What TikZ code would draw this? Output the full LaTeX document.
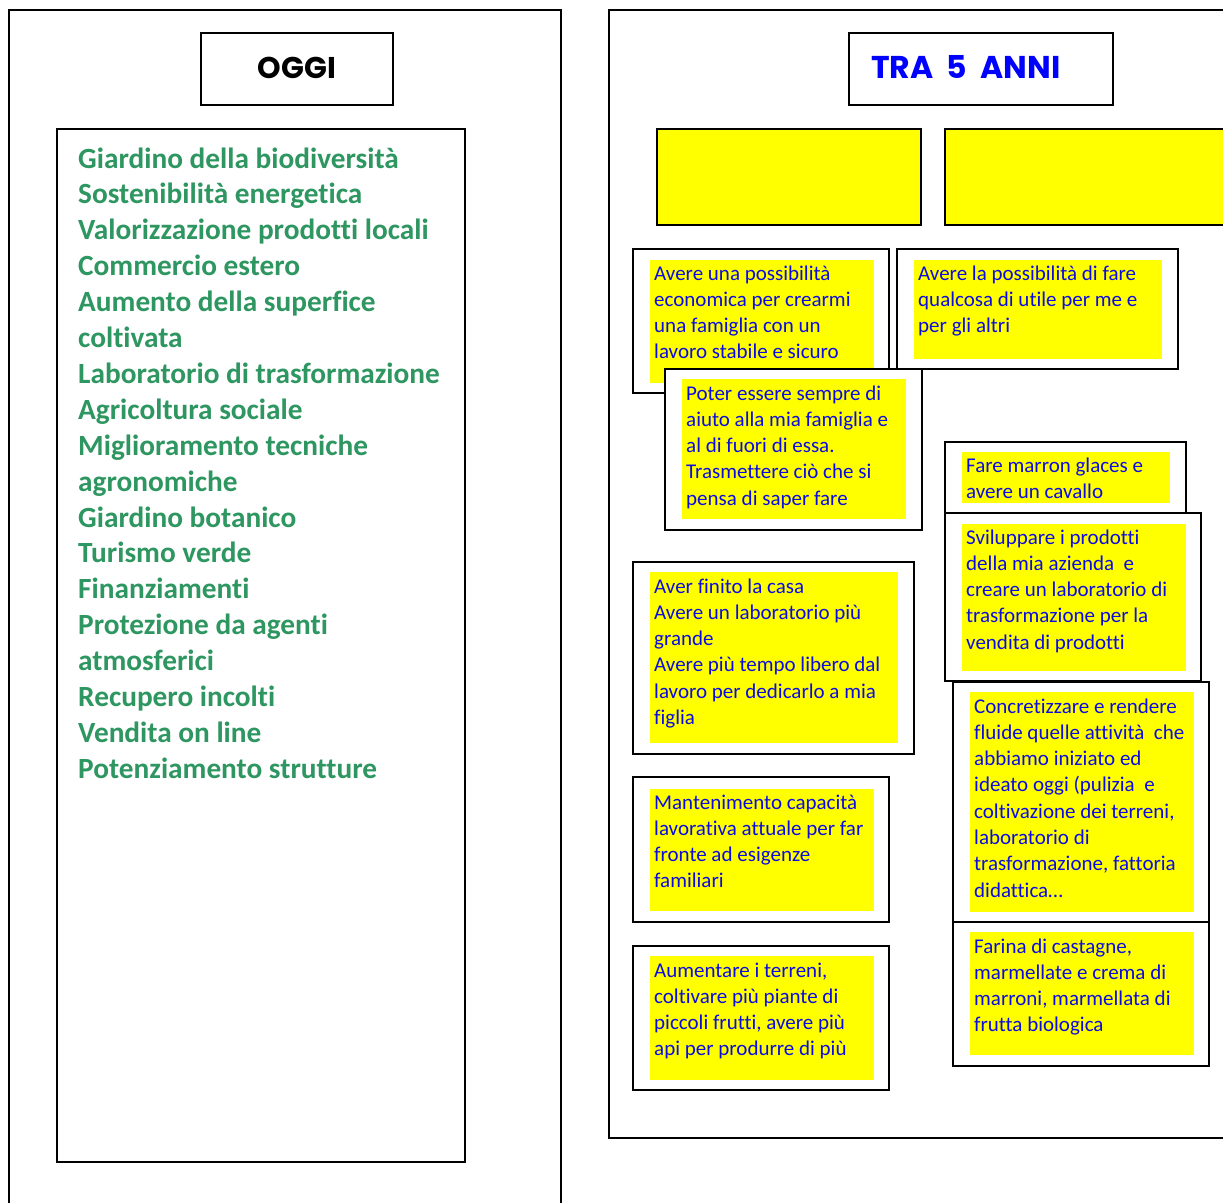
\documentclass[tikz,border=0pt]{standalone}
\usepackage{fontspec}
\setmainfont{Carlito}[Ligatures={NoCommon}]
\newfontfamily\titlefont{Poppins}
\newfontfamily\titlewide{Poppins}[WordSpace=2]
\definecolor{listgreen}{RGB}{46,150,96}
\definecolor{cardblue}{RGB}{12,12,225}
\definecolor{hlyellow}{RGB}{255,255,0}
\tikzset{
  panel/.style={draw=black, line width=1.6pt},
  boxframe/.style={draw=black, line width=1.8pt, fill=white, anchor=north west, inner sep=0pt, outer sep=0pt},
  hl/.style={fill=hlyellow, anchor=north west, inner sep=0pt, outer sep=0pt},
  hlbox/.style={fill=hlyellow, draw=black, line width=1.8pt, anchor=north west, inner sep=0pt, outer sep=0pt},
  ctext/.style={anchor=base west, inner sep=0pt, text=cardblue, font=\fontsize{21}{26.3}\selectfont},
  ltext/.style={anchor=base west, inner sep=0pt, text=listgreen, font=\fontsize{29.3}{35.9}\selectfont\bfseries},
  ttext/.style={inner sep=0pt, font=\fontsize{30}{36}\selectfont\titlefont\bfseries},
}
\newcommand{\lns}[1]{\begin{tabular}[t]{@{}l@{}}#1\end{tabular}}
\begin{document}
\begin{tikzpicture}[x=1pt,y=-1pt]
\path[use as bounding box] (0,0) rectangle (1223,1202);
\clip (0,0) rectangle (1223,1202);
\fill[white] (0,0) rectangle (1223,1202);

% ---------- left panel ----------
\draw[panel] (9,1215) -- (9,10) -- (561,10) -- (561,1215);
\node[boxframe, minimum width=192pt, minimum height=72pt] (oggibox) at (201,33) {};
\node[ttext, anchor=base] (oggi) at (297,78) {OGGI};
\node[boxframe, minimum width=408pt, minimum height=1033pt] (listbox) at (57,129) {};
\node[ltext] (list) at (78,168) {\lns{Giardino della biodiversità\\
Sostenibilità energetica\\
Valorizzazione prodotti locali\\
Commercio estero\\
Aumento della superfice\\
coltivata\\
Laboratorio di trasformazione\\
Agricoltura sociale\\
Miglioramento tecniche\\
agronomiche\\
Giardino botanico\\
Turismo verde\\
Finanziamenti\\
Protezione da agenti\\
atmosferici\\
Recupero incolti\\
Vendita on line\\
Potenziamento strutture}};

% ---------- right panel ----------
\draw[panel] (1240,10) -- (609,10) -- (609,1138) -- (1240,1138);
\node[boxframe, minimum width=264pt, minimum height=72pt] (trabox) at (849,33) {};
\node[ttext, anchor=base west, text=blue, font=\fontsize{31.5}{36}\selectfont\titlewide\bfseries] (tra) at (871,78) {TRA 5 ANNI};

\node[hlbox, minimum width=264pt, minimum height=96pt] (ybox1) at (657,129) {};
\node[hlbox, minimum width=300pt, minimum height=96pt] (ybox2) at (945,129) {};

% card 1
\node[boxframe, minimum width=256pt, minimum height=144pt] (c1) at (633,249) {};
\node[hl, minimum width=224pt, minimum height=123pt] (c1y) at (650,260) {};
\node[ctext] (c1t) at (654,280) {\lns{Avere una possibilità\\economica per crearmi\\una famiglia con un\\lavoro stabile e sicuro}};

% card 3
\node[boxframe, minimum width=281pt, minimum height=120pt] (c3) at (897,249) {};
\node[hl, minimum width=248pt, minimum height=99pt] (c3y) at (914,260) {};
\node[ctext] (c3t) at (918,280) {\lns{Avere la possibilità di fare\\qualcosa di utile per me e\\per gli altri}};

% card 2
\node[boxframe, minimum width=257pt, minimum height=161pt] (c2) at (665,369) {};
\node[hl, minimum width=224pt, minimum height=140pt] (c2y) at (682,379) {};
\node[ctext] (c2t) at (686,400) {\lns{Poter essere sempre di\\aiuto alla mia famiglia e\\al di fuori di essa.\\Trasmettere ciò che si\\pensa di saper fare}};

% card marron
\node[boxframe, minimum width=241pt, minimum height=71pt] (c4) at (945,442) {};
\node[hl, minimum width=208pt, minimum height=51pt] (c4y) at (962,452) {};
\node[ctext] (c4t) at (966,472) {\lns{Fare marron glaces e\\avere un cavallo}};

% card sviluppare
\node[boxframe, minimum width=256pt, minimum height=168pt] (c5) at (945,513) {};
\node[hl, minimum width=224pt, minimum height=147pt] (c5y) at (962,524) {};
\node[ctext] (c5t) at (966,544) {\lns{Sviluppare i prodotti\\della mia azienda\ \ e\\creare un laboratorio di\\trasformazione per la\\vendita di prodotti}};

% card concretizzare
\node[boxframe, minimum width=256pt, minimum height=240pt] (c6) at (953,682) {};
\node[hl, minimum width=224pt, minimum height=220pt] (c6y) at (970,692) {};
\node[ctext] (c6t) at (974,713) {\lns{Concretizzare e rendere\\fluide quelle attività\ \ che\\abbiamo iniziato ed\\ideato oggi (pulizia\ \ e\\coltivazione dei terreni,\\laboratorio di\\trasformazione, fattoria\\didattica…}};

% card farina
\node[boxframe, minimum width=256pt, minimum height=144pt] (c7) at (953,922) {};
\node[hl, minimum width=224pt, minimum height=123pt] (c7y) at (970,932) {};
\node[ctext] (c7t) at (974,953) {\lns{Farina di castagne,\\marmellate e crema di\\marroni, marmellata di\\frutta biologica}};

% card aver finito
\node[boxframe, minimum width=281pt, minimum height=192pt] (c8) at (633,562) {};
\node[hl, minimum width=248pt, minimum height=171pt] (c8y) at (650,572) {};
\node[ctext] (c8t) at (654,593) {\lns{Aver finito la casa\\Avere un laboratorio più\\grande\\Avere più tempo libero dal\\lavoro per dedicarlo a mia\\figlia}};

% card mantenimento
\node[boxframe, minimum width=256pt, minimum height=145pt] (c9) at (633,777) {};
\node[hl, minimum width=224pt, minimum height=122pt] (c9y) at (650,789) {};
\node[ctext] (c9t) at (654,809) {\lns{Mantenimento capacità\\lavorativa attuale per far\\fronte ad esigenze\\familiari}};

% card aumentare
\node[boxframe, minimum width=256pt, minimum height=144pt] (c10) at (633,946) {};
\node[hl, minimum width=224pt, minimum height=124pt] (c10y) at (650,956) {};
\node[ctext] (c10t) at (654,977) {\lns{Aumentare i terreni,\\coltivare più piante di\\piccoli frutti, avere più\\api per produrre di più}};
\end{tikzpicture}
\end{document}
